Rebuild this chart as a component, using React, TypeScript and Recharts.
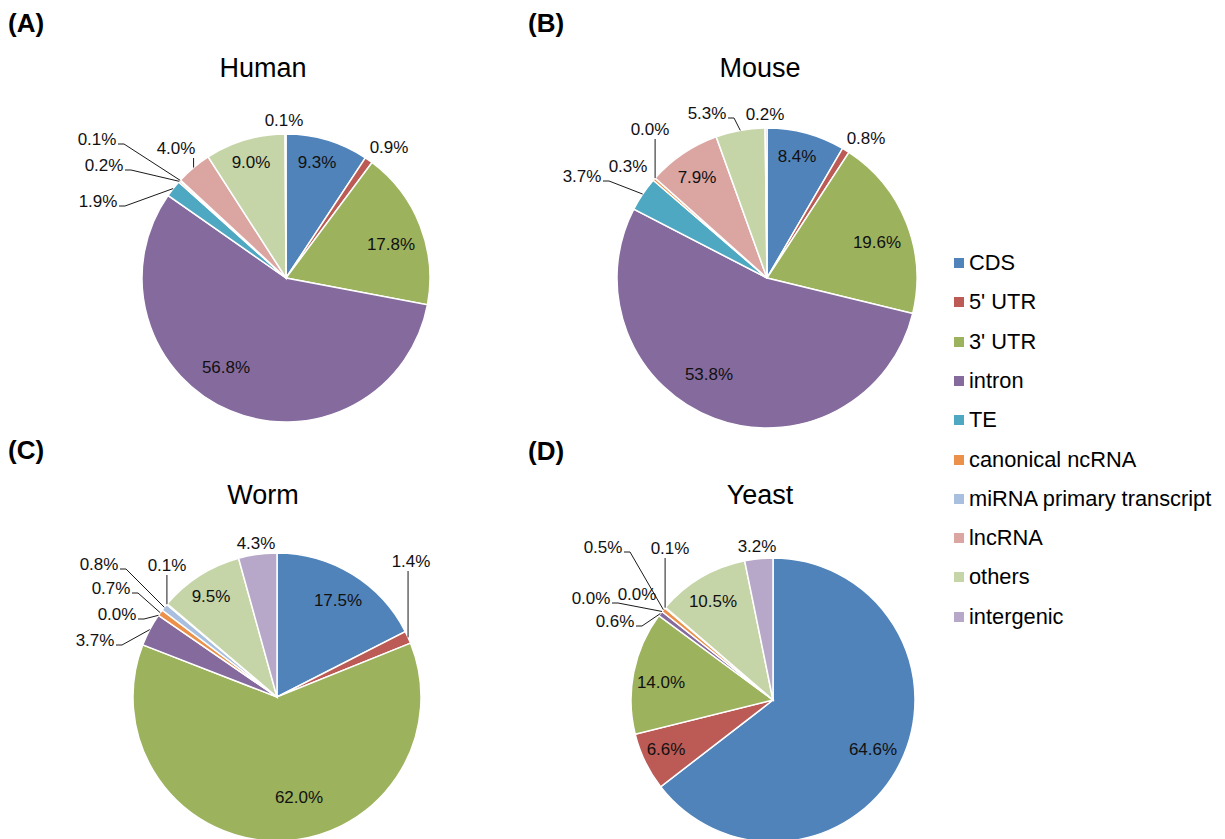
import React from "react";
import { PieChart, Pie, Cell } from "recharts";

const categories = [
  "CDS",
  "5' UTR",
  "3' UTR",
  "intron",
  "TE",
  "canonical ncRNA",
  "miRNA primary transcript",
  "lncRNA",
  "others",
  "intergenic",
];

const humanValues = [9.3, 0.9, 17.8, 56.8, 1.9, 0.2, 0.1, 4.0, 9.0, 0.1];
const mouseValues = [8.4, 0.8, 19.6, 53.8, 3.7, 0.3, 0.0, 7.9, 5.3, 0.2];
const wormValues = [17.5, 1.4, 62.0, 3.7, 0.0, 0.7, 0.8, 0.1, 9.5, 4.3];
const yeastValues = [64.6, 6.6, 14.0, 0.6, 0.0, 0.5, 0.0, 0.1, 10.5, 3.2];

const titles = ["Human", "Mouse", "Worm", "Yeast"];
const panelTags = ["(A)", "(B)", "(C)", "(D)"];

const COLORS = [
  "#5083BA",
  "#BC5A55",
  "#9CB25D",
  "#856A9E",
  "#4FA8C1",
  "#EC914A",
  "#A8BFDF",
  "#DBA5A2",
  "#C6D5A8",
  "#B7A8C9",
];

const FONT = "'Liberation Sans', Arial, Helvetica, sans-serif";
const RAD = Math.PI / 180;

// label placement relative to pie centre: [dx, dy, leader]
// leader: "" none, "r" from right side of text, "b" straight down to slice
type Spot = [number, number, string];

const humanSpots: Spot[] = [
  [31, -116, ""],
  [103, -131, ""],
  [105, -34, ""],
  [-60, 89, ""],
  [-188, -77, "r"],
  [-182, -113, "r"],
  [-189, -139, "r"],
  [-110, -130, "b"],
  [-35, -116, ""],
  [-2, -158, ""],
];
const mouseSpots: Spot[] = [
  [30, -122, ""],
  [99, -140, ""],
  [110, -36, ""],
  [-58, 96, ""],
  [-185, -102, "r"],
  [-139, -112, ""],
  [-117, -149, "b"],
  [-70, -101, ""],
  [-60, -165, "r"],
  [-2, -164, ""],
];
const wormSpots: Spot[] = [
  [61, -97, ""],
  [134, -136, "b"],
  [22, 100, ""],
  [-182, -57, "r"],
  [-160, -83, "r"],
  [-166, -109, "r"],
  [-178, -133, "r"],
  [-110, -132, "b"],
  [-66, -101, ""],
  [-21, -154, ""],
];
const yeastSpots: Spot[] = [
  [100, 49, ""],
  [-107, 49, ""],
  [-112, -18, ""],
  [-158, -79, "r"],
  [-182, -102, "r"],
  [-170, -153, "r"],
  [-136, -106, ""],
  [-103, -152, "b"],
  [-60, -99, ""],
  [-16, -154, ""],
];

const panels = [
  { values: humanValues, spots: humanSpots, cx: 286, cy: 278, r: 144, tx: 263, ty: 68, px: 8, py: 23 },
  { values: mouseValues, spots: mouseSpots, cx: 767, cy: 278, r: 150, tx: 760, ty: 68, px: 528, py: 23 },
  { values: wormValues, spots: wormSpots, cx: 277, cy: 697, r: 144, tx: 263, ty: 495, px: 8, py: 450 },
  { values: yeastValues, spots: yeastSpots, cx: 773, cy: 700, r: 142, tx: 760, ty: 495, px: 528, py: 451 },
];

const makeLabel = (spots: Spot[]) => (props: any) => {
  const { cx, cy, midAngle, outerRadius, index } = props;
  const value = props.value ?? props.payload?.value ?? 0;
  const [dx, dy, kind] = spots[index];
  const tx = cx + dx;
  const ty = cy + dy;
  const ex = cx + outerRadius * Math.cos(-midAngle * RAD);
  const ey = cy + outerRadius * Math.sin(-midAngle * RAD);
  let points = "";
  if (kind === "r") {
    const sx = tx + 21;
    const sy = ty + 5;
    points = `${sx},${sy} ${sx + 6},${sy} ${ex},${ey}`;
  } else if (kind === "b") {
    points = `${ex},${ty + 10} ${ex},${ey}`;
  }
  return (
    <g key={`lbl-${index}`}>
      {points && (
        <polyline points={points} fill="none" stroke="#1a1a1a" strokeWidth={1} />
      )}
      <text
        x={tx}
        y={ty}
        textAnchor="middle"
        dominantBaseline="central"
        fontSize={17}
        fontFamily={FONT}
        fill="#111"
      >
        {`${Number(value).toFixed(1)}%`}
      </text>
    </g>
  );
};

const App: React.FC = () => {
  return (
    <div
      style={{
        position: "absolute",
        left: 0,
        top: 0,
        width: 1225,
        height: 839,
        overflow: "hidden",
        background: "#fff",
        fontFamily: FONT,
      }}
    >
      <div style={{ position: "absolute", left: 0, top: 0 }}>
        <PieChart
          width={1225}
          height={839}
          margin={{ top: 0, right: 0, bottom: 0, left: 0 }}
        >
          {panels.map((p, pi) => (
            <Pie
              key={titles[pi]}
              data={categories.map((name, i) => ({ name, value: p.values[i] }))}
              dataKey="value"
              nameKey="name"
              cx={p.cx}
              cy={p.cy}
              outerRadius={p.r}
              startAngle={90}
              endAngle={-270}
              stroke="#ffffff"
              strokeWidth={1.5}
              labelLine={false}
              label={makeLabel(p.spots)}
              isAnimationActive={false}
            >
              {categories.map((c, i) => (
                <Cell key={c} fill={COLORS[i]} />
              ))}
            </Pie>
          ))}
        </PieChart>
      </div>

      {panels.map((p, pi) => (
        <React.Fragment key={`t-${pi}`}>
          <div
            style={{
              position: "absolute",
              left: p.tx,
              top: p.ty,
              transform: "translate(-50%, -50%)",
              fontSize: 27,
              color: "#000",
              whiteSpace: "nowrap",
            }}
          >
            {titles[pi]}
          </div>
          <div
            style={{
              position: "absolute",
              left: p.px,
              top: p.py,
              transform: "translateY(-50%)",
              fontSize: 26,
              fontWeight: "bold",
              color: "#000",
              whiteSpace: "nowrap",
            }}
          >
            {panelTags[pi]}
          </div>
        </React.Fragment>
      ))}

      {categories.map((c, i) => (
        <div
          key={c}
          style={{
            position: "absolute",
            left: 954,
            top: 263 + i * 39.3,
            transform: "translateY(-50%)",
            display: "flex",
            alignItems: "center",
            whiteSpace: "nowrap",
          }}
        >
          <span
            style={{
              display: "inline-block",
              width: 10,
              height: 10,
              background: COLORS[i],
              marginRight: 5,
            }}
          />
          <span style={{ fontSize: 21.8, color: "#000", lineHeight: "24px" }}>{c}</span>
        </div>
      ))}
    </div>
  );
};

export default App;
